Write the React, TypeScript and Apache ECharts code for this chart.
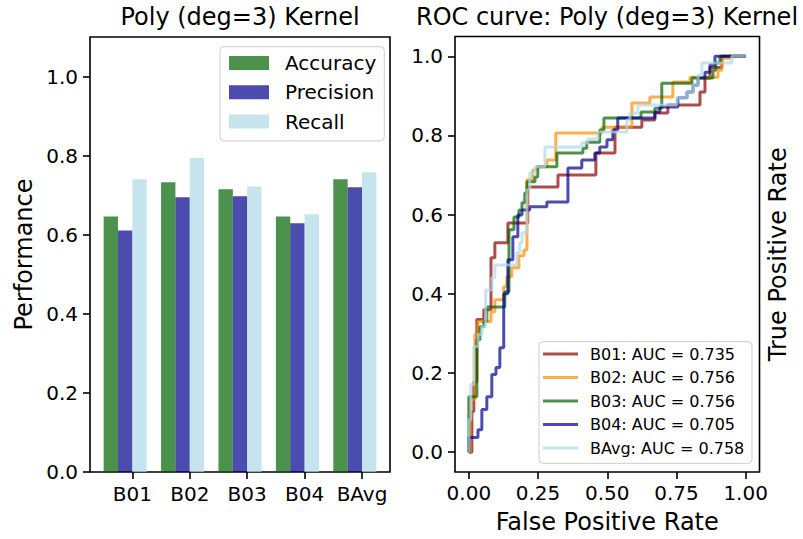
import React, { useEffect, useRef } from 'react';
import * as echarts from 'echarts';

// ---------- data ----------
const categories = ['B01', 'B02', 'B03', 'B04', 'BAvg'];
const accuracy = [0.646, 0.733, 0.715, 0.646, 0.740];
const precision = [0.611, 0.695, 0.697, 0.629, 0.720];
const recall = [0.740, 0.794, 0.722, 0.652, 0.758];
const metricNames = ['Accuracy', 'Precision', 'Recall'];
const perfTicks = [0, 0.2, 0.4, 0.6, 0.8, 1.0];
const rateXTicks = [0, 0.25, 0.5, 0.75, 1.0];
const rateYTicks = [0, 0.2, 0.4, 0.6, 0.8, 1.0];

const rocNames = [
  'B01: AUC = 0.735',
  'B02: AUC = 0.756',
  'B03: AUC = 0.756',
  'B04: AUC = 0.705',
  'BAvg: AUC = 0.758',
];

const b01Fpr = [0, 0.011, 0.011, 0.018, 0.018, 0.029, 0.029, 0.054, 0.054, 0.080, 0.080, 0.094, 0.094, 0.141, 0.141, 0.213, 0.213, 0.322, 0.322, 0.459, 0.459, 0.528, 0.528, 0.625, 0.625, 0.672, 0.672, 0.719, 0.719, 0.835, 0.835, 0.853, 0.853, 0.871, 0.871, 0.914, 0.914, 1.0];
const b01Tpr = [0, 0, 0.103, 0.103, 0.178, 0.178, 0.335, 0.335, 0.360, 0.360, 0.491, 0.491, 0.529, 0.529, 0.579, 0.579, 0.670, 0.670, 0.700, 0.700, 0.756, 0.756, 0.821, 0.821, 0.839, 0.839, 0.857, 0.857, 0.877, 0.877, 0.910, 0.910, 0.945, 0.945, 0.972, 0.972, 1.0, 1.0];

const b02Fpr = [0, 0.005, 0.005, 0.022, 0.022, 0.033, 0.033, 0.080, 0.080, 0.094, 0.094, 0.126, 0.126, 0.137, 0.137, 0.155, 0.155, 0.181, 0.181, 0.199, 0.199, 0.210, 0.210, 0.231, 0.231, 0.246, 0.246, 0.282, 0.282, 0.314, 0.314, 0.481, 0.481, 0.589, 0.589, 0.654, 0.654, 0.737, 0.737, 0.799, 0.799, 0.900, 0.900, 0.914, 0.914, 0.943, 0.943, 1.0];
const b02Tpr = [0, 0, 0.133, 0.133, 0.297, 0.297, 0.330, 0.330, 0.355, 0.355, 0.385, 0.385, 0.418, 0.418, 0.443, 0.443, 0.466, 0.466, 0.496, 0.496, 0.511, 0.511, 0.688, 0.688, 0.713, 0.713, 0.721, 0.721, 0.738, 0.738, 0.806, 0.806, 0.821, 0.821, 0.882, 0.882, 0.897, 0.897, 0.935, 0.935, 0.947, 0.947, 0.965, 0.965, 0.995, 0.995, 1.0, 1.0];

const b03Fpr = [0, 0, 0.029, 0.029, 0.040, 0.040, 0.054, 0.054, 0.065, 0.065, 0.130, 0.130, 0.145, 0.145, 0.163, 0.163, 0.181, 0.181, 0.192, 0.192, 0.202, 0.202, 0.210, 0.210, 0.239, 0.239, 0.249, 0.249, 0.318, 0.318, 0.412, 0.412, 0.426, 0.426, 0.473, 0.473, 0.488, 0.488, 0.622, 0.622, 0.672, 0.672, 0.697, 0.697, 0.806, 0.806, 0.882, 0.882, 0.892, 0.892, 0.907, 0.907, 1.0];
const b03Tpr = [0, 0.140, 0.140, 0.284, 0.284, 0.317, 0.317, 0.330, 0.330, 0.367, 0.367, 0.405, 0.405, 0.562, 0.562, 0.594, 0.594, 0.612, 0.612, 0.630, 0.630, 0.655, 0.655, 0.683, 0.683, 0.695, 0.695, 0.721, 0.721, 0.756, 0.756, 0.768, 0.768, 0.783, 0.783, 0.814, 0.814, 0.844, 0.844, 0.859, 0.859, 0.869, 0.869, 0.932, 0.932, 0.945, 0.945, 0.965, 0.965, 0.983, 0.983, 1.0, 1.0];

const b04Fpr = [0, 0, 0.033, 0.033, 0.047, 0.047, 0.065, 0.065, 0.083, 0.083, 0.098, 0.098, 0.112, 0.112, 0.126, 0.126, 0.141, 0.141, 0.159, 0.159, 0.177, 0.177, 0.192, 0.192, 0.220, 0.220, 0.282, 0.282, 0.358, 0.358, 0.408, 0.408, 0.455, 0.455, 0.473, 0.473, 0.499, 0.499, 0.520, 0.520, 0.538, 0.538, 0.672, 0.672, 0.690, 0.690, 0.755, 0.755, 0.788, 0.788, 0.810, 0.810, 0.828, 0.828, 0.853, 0.853, 0.871, 0.871, 0.889, 0.889, 1.0];
const b04Tpr = [0, 0.037, 0.037, 0.057, 0.057, 0.108, 0.108, 0.140, 0.140, 0.196, 0.196, 0.214, 0.214, 0.264, 0.264, 0.400, 0.400, 0.486, 0.486, 0.544, 0.544, 0.599, 0.599, 0.612, 0.612, 0.620, 0.620, 0.632, 0.632, 0.718, 0.718, 0.738, 0.738, 0.756, 0.756, 0.771, 0.771, 0.789, 0.789, 0.814, 0.814, 0.844, 0.844, 0.859, 0.859, 0.872, 0.872, 0.895, 0.895, 0.910, 0.910, 0.927, 0.927, 0.945, 0.945, 0.960, 0.960, 0.978, 0.978, 1.0, 1.0];

const bAvgFpr = [0, 0, 0.007, 0.007, 0.018, 0.018, 0.033, 0.033, 0.047, 0.047, 0.061, 0.061, 0.083, 0.083, 0.094, 0.094, 0.173, 0.173, 0.184, 0.184, 0.192, 0.192, 0.210, 0.210, 0.220, 0.220, 0.239, 0.239, 0.275, 0.275, 0.408, 0.408, 0.430, 0.430, 0.466, 0.466, 0.571, 0.571, 0.582, 0.582, 0.611, 0.611, 0.752, 0.752, 0.788, 0.788, 0.810, 0.810, 0.828, 0.828, 0.842, 0.842, 0.950, 0.950, 1.0];
const bAvgTpr = [0, 0.082, 0.082, 0.171, 0.171, 0.267, 0.267, 0.297, 0.297, 0.317, 0.317, 0.410, 0.410, 0.441, 0.441, 0.473, 0.473, 0.504, 0.504, 0.529, 0.529, 0.554, 0.554, 0.663, 0.663, 0.705, 0.705, 0.721, 0.721, 0.771, 0.771, 0.781, 0.781, 0.791, 0.791, 0.809, 0.809, 0.839, 0.839, 0.857, 0.857, 0.877, 0.877, 0.895, 0.895, 0.910, 0.910, 0.927, 0.927, 0.952, 0.952, 0.983, 0.983, 1.0, 1.0];

const rocFpr = [b01Fpr, b02Fpr, b03Fpr, b04Fpr, bAvgFpr];
const rocTpr = [b01Tpr, b02Tpr, b03Tpr, b04Tpr, bAvgTpr];

// ---------- styles ----------
const FONT = 'DejaVu Sans';
const metricColors = ['rgba(0,100,0,0.7)', 'rgba(0,0,139,0.7)', 'rgba(173,216,230,0.7)'];
const rocColors = [
  'rgba(139,0,0,0.7)',
  'rgba(255,140,0,0.7)',
  'rgba(0,100,0,0.7)',
  'rgba(0,0,139,0.7)',
  'rgba(173,216,230,0.7)',
];
const barOffsets = [-0.375, -0.125, 0.125];

export default function App() {
  const ref = useRef<HTMLDivElement>(null);

  useEffect(() => {
    if (!ref.current) return;
    const chart = echarts.init(ref.current, undefined, { renderer: 'svg' });

    const tickStyle = { show: true, length: 7, inside: false, lineStyle: { color: '#000', width: 1.6 } };
    const labelBase = { color: '#000', fontSize: 20, fontFamily: FONT };
    const noLine = { show: false, onZero: false };

    const metricSeries = [accuracy, precision, recall].map((vals, si) => ({
      type: 'bar',
      name: metricNames[si],
      xAxisIndex: 0,
      yAxisIndex: 0,
      barWidth: 14.35,
      barGap: '-100%',
      itemStyle: { color: metricColors[si] },
      data: vals.map((v, i) => [i + barOffsets[si], v]),
    }));

    const rocSeries = rocNames.map((name, si) => ({
      type: 'line',
      name,
      xAxisIndex: 1,
      yAxisIndex: 1,
      symbol: 'none',
      showSymbol: false,
      color: rocColors[si],
      lineStyle: { color: rocColors[si], width: 3 },
      itemStyle: { color: rocColors[si] },
      data: rocFpr[si].map((f, i) => [f, rocTpr[si][i]]),
    }));

    chart.setOption({
      animation: false,
      textStyle: { fontFamily: FONT },
      title: [
        {
          text: 'Poly (deg=3) Kernel',
          left: 240,
          top: 5,
          padding: 0,
          textAlign: 'center',
          textStyle: { fontSize: 24, fontWeight: 'normal', color: '#000', fontFamily: FONT },
        },
        {
          text: 'ROC curve: Poly (deg=3) Kernel',
          left: 607,
          top: 5,
          padding: 0,
          textAlign: 'center',
          textStyle: { fontSize: 24, fontWeight: 'normal', color: '#000', fontFamily: FONT },
        },
      ],
      legend: [
        {
          data: metricNames,
          orient: 'vertical',
          left: 220,
          top: 46.7,
          icon: 'rect',
          itemWidth: 40,
          itemHeight: 14,
          itemGap: 9.3,
          padding: [6.3, 8, 9.3, 9],
          selectedMode: false,
          textStyle: { fontSize: 20, lineHeight: 20, color: '#000', fontFamily: FONT, padding: [0, 0, 0, 11] },
          borderColor: '#cccccc',
          borderWidth: 1,
          borderRadius: 4,
          backgroundColor: 'rgba(255,255,255,0.8)',
        },
        {
          data: rocNames,
          orient: 'vertical',
          left: 539,
          top: 341.7,
          icon: 'rect',
          itemWidth: 35,
          itemHeight: 3,
          itemGap: 7.5,
          padding: [4.3, 7.7, 7.3, 4],
          selectedMode: false,
          textStyle: { fontSize: 16, lineHeight: 16, color: '#000', fontFamily: FONT, padding: [0, 0, 0, 7] },
          borderColor: '#cccccc',
          borderWidth: 1,
          borderRadius: 4,
          backgroundColor: 'rgba(255,255,255,0.8)',
        },
      ],
      grid: [
        { left: 90, top: 37, width: 300, height: 435, show: true, borderColor: '#000', borderWidth: 1.6, backgroundColor: 'transparent' },
        { left: 455, top: 36.5, width: 304.5, height: 436, show: true, borderColor: '#000', borderWidth: 1.6, backgroundColor: 'transparent' },
      ],
      xAxis: [
        {
          type: 'value',
          gridIndex: 0,
          position: 'bottom',
          min: -0.7375,
          max: 4.4875,
          axisLine: noLine,
          splitLine: { show: false },
          axisTick: { ...tickStyle, customValues: categories.map((_, i) => i) },
          axisLabel: {
            ...labelBase,
            margin: 12,
            customValues: categories.map((_, i) => i),
            formatter: (v: number) => categories[Math.round(v)] ?? '',
          },
        },
        {
          type: 'value',
          gridIndex: 1,
          position: 'bottom',
          min: -0.05,
          max: 1.05,
          axisLine: noLine,
          splitLine: { show: false },
          axisTick: { ...tickStyle, customValues: rateXTicks },
          axisLabel: { ...labelBase, margin: 11, customValues: rateXTicks, formatter: (v: number) => v.toFixed(2) },
          name: 'False Positive Rate',
          nameLocation: 'middle',
          nameGap: 38,
          nameTextStyle: { fontSize: 24, color: '#000', fontFamily: FONT },
        },
      ],
      yAxis: [
        {
          type: 'value',
          gridIndex: 0,
          position: 'left',
          min: 0,
          max: 1.1,
          axisLine: noLine,
          splitLine: { show: false },
          axisTick: { ...tickStyle, customValues: perfTicks },
          axisLabel: { ...labelBase, margin: 12, customValues: perfTicks, formatter: (v: number) => v.toFixed(1) },
          name: 'Performance',
          nameLocation: 'middle',
          nameGap: 54,
          nameTextStyle: { fontSize: 24, color: '#000', fontFamily: FONT },
        },
        {
          type: 'value',
          gridIndex: 1,
          position: 'left',
          min: -0.05,
          max: 1.05,
          axisLine: noLine,
          splitLine: { show: false },
          axisTick: { ...tickStyle, customValues: rateYTicks },
          axisLabel: { ...labelBase, margin: 12, customValues: rateYTicks, formatter: (v: number) => v.toFixed(1) },
        },
        {
          type: 'value',
          gridIndex: 1,
          position: 'right',
          min: -0.05,
          max: 1.05,
          axisLine: noLine,
          splitLine: { show: false },
          axisTick: { show: false },
          axisLabel: { show: false },
          name: 'True Positive Rate',
          nameLocation: 'middle',
          nameGap: 6,
          nameTextStyle: { fontSize: 24, color: '#000', fontFamily: FONT },
        },
      ],
      series: [...metricSeries, ...rocSeries],
    });

    return () => chart.dispose();
  }, []);

  return (
    <div
      ref={ref}
      style={{ position: 'absolute', left: 0, top: 0, width: 803, height: 539, background: '#fff' }}
    />
  );
}
